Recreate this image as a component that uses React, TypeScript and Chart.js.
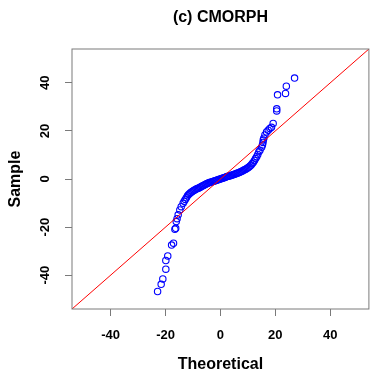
import React, { useEffect, useRef } from "react";
import { Chart, registerables } from "chart.js";

Chart.register(...registerables);

const titleText = "(c) CMORPH";
const xTitle = "Theoretical";
const yTitle = "Sample";
const axisMin = -54.08;
const axisMax = 54.08;
const xTicks = [-40, -20, 0, 20, 40];
const yTicks = [-40, -20, 0, 20, 40];

// Q-Q pairs (theoretical quantile, sample quantile)
const theoretical = [
  -22.9, -21.6, -21.0, -19.9, -19.9, -19.2, -17.8, -17.1, -16.6, -16.3,
  -16.1, -15.8, -15.4, -14.8, -14.3, -13.6,
  -13.2, -12.8, -12.4, -12.0, -11.6, -11.2, -10.8, -10.4, -10.0, -9.6,
  -9.2, -8.8, -8.4, -8.0, -7.6, -7.2, -6.8, -6.4, -6.0, -5.6,
  -5.2, -4.8, -4.4, -4.0, -3.6, -3.2, -2.8, -2.4, -2.0, -1.6,
  -1.2, -0.8, -0.4, 0.0, 0.4, 0.8, 1.2, 1.6, 2.0, 2.4,
  2.8, 3.2, 3.6, 4.0, 4.4, 4.8, 5.2, 5.6, 6.0, 6.4,
  6.8, 7.2, 7.6, 8.0, 8.4, 8.8, 9.2, 9.6, 10.0, 10.4,
  10.8, 11.2, 11.6, 12.0, 12.4, 12.8, 13.2, 13.6,
  14.0, 14.4, 15.0, 15.3, 15.5, 15.6, 15.8, 16.2, 16.8, 17.4,
  18.0, 18.6, 19.2, 20.5, 20.5, 20.8, 23.7, 24.0, 27.0,
];
const sample = [
  -46.8, -43.8, -41.6, -37.5, -33.9, -32.0, -27.5, -26.7, -20.9, -20.5,
  -17.7, -16.5, -14.9, -12.9, -11.5, -10.1,
  -9.3, -8.5, -7.8, -7.0, -6.4, -6.0, -5.6, -5.3, -5.0, -4.7,
  -4.5, -4.2, -4.0, -3.8, -3.5, -3.3, -3.0, -2.8, -2.6, -2.3,
  -2.1, -1.9, -1.7, -1.5, -1.3, -1.2, -1.0, -0.9, -0.7, -0.6,
  -0.4, -0.3, -0.1, 0.0, 0.2, 0.3, 0.5, 0.6, 0.8, 1.0,
  1.1, 1.3, 1.4, 1.6, 1.7, 1.9, 2.0, 2.2, 2.4, 2.5,
  2.7, 2.9, 3.1, 3.3, 3.6, 3.9, 4.1, 4.4, 4.7, 5.0,
  5.4, 5.8, 6.4, 7.0, 7.7, 8.5, 9.3, 10.2,
  11.3, 12.0, 13.2, 14.1, 15.2, 16.2, 17.0, 18.3, 19.6, 20.3,
  21.0, 21.5, 23.1, 28.3, 29.2, 35.0, 35.6, 38.6, 42.0,
];
const refLineX = [-60, 60];
const refLineY = [-60, 60];

const FONT = "'Liberation Sans', Arial, Helvetica, sans-serif";
const BOX_COLOR = "#7a7a7a";

const boxPlugin = {
  id: "rbox",
  afterDraw(chart: any) {
    const { ctx, chartArea } = chart;
    ctx.save();
    ctx.strokeStyle = BOX_COLOR;
    ctx.lineWidth = 1;
    ctx.strokeRect(
      chartArea.left,
      chartArea.top,
      chartArea.right - chartArea.left,
      chartArea.bottom - chartArea.top
    );
    ctx.restore();
  },
};

export default function App() {
  const canvasRef = useRef<HTMLCanvasElement | null>(null);

  useEffect(() => {
    document.body.style.margin = "0";
    const canvas = canvasRef.current;
    if (!canvas) return;
    const chart = new Chart(canvas, {
      type: "scatter",
      data: {
        datasets: [
          {
            type: "line",
            data: refLineX.map((x, i) => ({ x, y: refLineY[i] })),
            borderColor: "#ff0000",
            borderWidth: 1,
            pointRadius: 0,
            fill: false,
            clip: 0,
          } as any,
          {
            type: "scatter",
            data: theoretical.map((x, i) => ({ x, y: sample[i] })),
            borderColor: "#0000ff",
            backgroundColor: "rgba(0,0,0,0)",
            pointRadius: 3.2,
            pointBorderWidth: 1.1,
            pointBackgroundColor: "rgba(0,0,0,0)",
            pointBorderColor: "#0000ff",
            clip: 0,
          } as any,
        ],
      },
      plugins: [boxPlugin],
      options: {
        responsive: false,
        animation: false,
        layout: { padding: { left: 0, right: 1, top: 0, bottom: 0 } },
        plugins: {
          legend: { display: false },
          tooltip: { enabled: false },
          title: {
            display: true,
            text: titleText,
            fullSize: false,
            color: "#000",
            font: { family: FONT, size: 16, weight: "bold" },
            padding: { top: 8.2, bottom: 21.6 },
          },
        },
        scales: {
          x: {
            type: "linear",
            min: axisMin,
            max: axisMax,
            afterBuildTicks: (scale: any) => {
              scale.ticks = xTicks.map((v) => ({ value: v }));
            },
            afterFit: (scale: any) => {
              scale.height = 69;
            },
            grid: {
              drawOnChartArea: false,
              drawTicks: true,
              tickLength: 7,
              color: BOX_COLOR,
            },
            border: { display: false },
            ticks: {
              color: "#000",
              font: { family: FONT, size: 13, weight: "bold" },
              padding: 12,
              autoSkip: false,
              maxRotation: 0,
              minRotation: 0,
            },
            title: {
              display: true,
              text: xTitle,
              color: "#000",
              font: { family: FONT, size: 16, weight: "bold" },
              padding: { top: 0, bottom: 3.4 },
            },
          },
          y: {
            type: "linear",
            min: axisMin,
            max: axisMax,
            afterBuildTicks: (scale: any) => {
              scale.ticks = yTicks.map((v) => ({ value: v }));
            },
            afterFit: (scale: any) => {
              scale.width = 72;
            },
            grid: {
              drawOnChartArea: false,
              drawTicks: true,
              tickLength: 7,
              color: BOX_COLOR,
            },
            border: { display: false },
            ticks: {
              color: "#000",
              font: { family: FONT, size: 13, weight: "bold" },
              padding: 10,
              autoSkip: false,
              minRotation: 90,
              maxRotation: 90,
              crossAlign: "center",
            },
            title: {
              display: true,
              text: yTitle,
              color: "#000",
              font: { family: FONT, size: 16, weight: "bold" },
              padding: { top: 6, bottom: 0 },
            },
          },
        },
      },
    });
    return () => chart.destroy();
  }, []);

  return (
    <div style={{ width: 374, height: 378 }}>
      <canvas ref={canvasRef} width={374} height={378} style={{ display: "block" }} />
    </div>
  );
}
